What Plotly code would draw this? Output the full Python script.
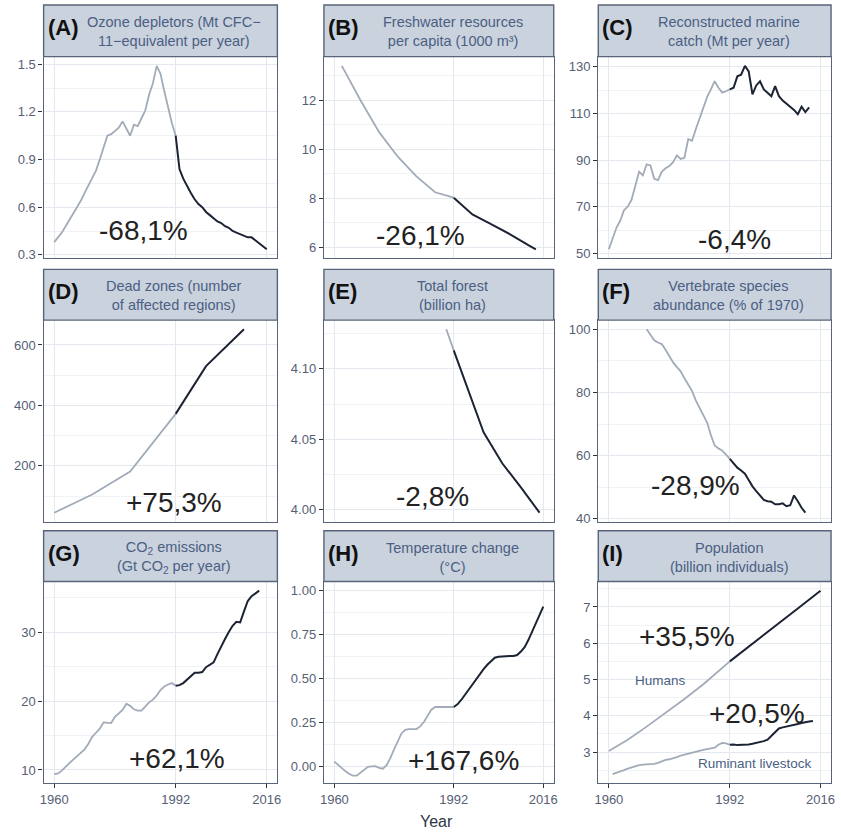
import plotly.graph_objects as go

W, H = 841, 837
SPLIT = 1992

# ---------------- data ----------------
years_ozone = list(range(1960, 2017))
ozone = [0.38, 0.41, 0.44, 0.48, 0.52, 0.56, 0.60, 0.64, 0.69, 0.74,
         0.78, 0.83, 0.90, 0.98, 1.05, 1.06, 1.08, 1.10, 1.14, 1.09,
         1.05, 1.12, 1.11, 1.16, 1.21, 1.31, 1.38, 1.49, 1.44, 1.33,
         1.22, 1.13, 1.05, 0.84, 0.78, 0.73, 0.69, 0.65, 0.62, 0.60,
         0.57, 0.55, 0.53, 0.51, 0.50, 0.48, 0.47, 0.45, 0.44, 0.43,
         0.42, 0.41, 0.41, 0.39, 0.37, 0.35, 0.335]

years_water = [1962, 1967, 1972, 1977, 1982, 1987, 1992, 1997, 2002, 2007, 2012, 2014]
water = [13.4, 12.0, 10.7, 9.7, 8.9, 8.25, 8.03, 7.35, 6.95, 6.55, 6.1, 5.93]

years_catch = list(range(1960, 2014))
catch = [51.8, 56.5, 61.0, 64.0, 68.5, 70.1, 73.0, 79.0, 85.0, 83.5,
         88.2, 87.7, 82.0, 81.4, 85.0, 86.5, 87.5, 89.1, 92.0, 90.5,
         91.0, 99.0, 98.3, 103.2, 108.0, 113.2, 117.0, 120.3, 123.8, 121.0,
         118.9, 119.5, 120.3, 121.0, 125.9, 126.6, 130.4, 128.0, 118.2, 122.0,
         123.8, 120.3, 118.9, 117.4, 121.7, 117.4, 115.5, 114.2, 113.2, 111.5,
         109.7, 112.9, 110.6, 112.6]

years_dead = [1960, 1970, 1980, 1990, 1992, 2000, 2010]
dead = [45, 105, 181, 340, 372, 530, 652]

years_forest = [1990, 1992, 2000, 2005, 2010, 2015]
forest = [4.128, 4.113, 4.055, 4.033, 4.016, 3.998]

years_lpi = list(range(1970, 2013))
lpi = [100.0, 98.3, 96.5, 95.8, 95.3, 93.5, 91.5, 89.5, 88.0, 86.7,
       84.5, 82.5, 80.5, 77.5, 75.2, 73.0, 70.5, 66.5, 63.2, 62.3,
       61.6, 60.3, 59.0, 57.5, 56.2, 55.3, 54.3, 52.3, 50.3, 48.8,
       47.5, 46.0, 45.6, 45.4, 44.6, 44.6, 44.9, 44.0, 44.3, 47.4,
       45.6, 43.5, 41.95]

years_co2 = list(range(1960, 2015))
co2 = [9.4, 9.5, 9.9, 10.5, 11.0, 11.5, 12.0, 12.4, 13.0, 13.8,
       14.8, 15.4, 16.0, 16.9, 16.8, 16.8, 17.7, 18.2, 18.7, 19.6,
       19.3, 18.8, 18.6, 18.6, 19.2, 19.8, 20.2, 20.8, 21.6, 22.1,
       22.4, 22.6, 22.2, 22.3, 22.6, 23.1, 23.7, 24.1, 24.1, 24.2,
       24.9, 25.2, 25.6, 26.8, 28.0, 29.0, 30.0, 30.9, 31.5, 31.4,
       33.0, 34.5, 35.2, 35.6, 36.0]

years_temp = list(range(1960, 2017))
temp = [0.03, 0.01, -0.01, -0.025, -0.04, -0.05, -0.05, -0.035, -0.015, 0.0,
        0.003, 0.004, -0.005, -0.01, 0.01, 0.05, 0.10, 0.15, 0.19, 0.21,
        0.215, 0.215, 0.215, 0.23, 0.255, 0.29, 0.325, 0.34, 0.34, 0.337,
        0.337, 0.338, 0.34, 0.355, 0.38, 0.41, 0.44, 0.47, 0.50, 0.53,
        0.555, 0.58, 0.60, 0.62, 0.625, 0.628, 0.63, 0.63, 0.63, 0.635,
        0.655, 0.68, 0.72, 0.77, 0.82, 0.87, 0.91]

years_humans = [1960, 1965, 1970, 1975, 1980, 1985, 1990, 1992, 1995, 2000, 2005, 2010, 2016]
humans = [3.03, 3.34, 3.70, 4.08, 4.46, 4.87, 5.33, 5.50, 5.74, 6.14, 6.54, 6.96, 7.45]

years_livestock = list(range(1961, 2015))
livestock = [2.39, 2.42, 2.46, 2.50, 2.54, 2.58, 2.62, 2.64, 2.65,
             2.65, 2.66, 2.67, 2.70, 2.75, 2.78, 2.80, 2.82, 2.86, 2.90,
             2.93, 2.96, 2.98, 3.00, 3.03, 3.06, 3.08, 3.10, 3.12, 3.20,
             3.25, 3.24, 3.20, 3.21, 3.19, 3.19, 3.19, 3.21, 3.23, 3.25,
             3.27, 3.30, 3.34, 3.45, 3.57, 3.65, 3.68, 3.70, 3.71, 3.74,
             3.77, 3.80, 3.83, 3.84, 3.856]

x_ticks = [1960, 1992, 2016]

# panel letter, strip text, series, y tick start/step, tick format, labels
panels = [
    ("A", "Ozone depletors (Mt CFC\u2212<br>11\u2212equivalent per year)",
     [(years_ozone, ozone)], 0.3, 0.3, ".1f",
     [("-68,1%", 1983.5, 0.455, 28)]),
    ("B", "Freshwater resources<br>per capita (1000 m\u00b3)",
     [(years_water, water)], 6, 2, "d",
     [("-26,1%", 1983.2, 6.49, 28)]),
    ("C", "Reconstructed marine<br>catch (Mt per year)",
     [(years_catch, catch)], 50, 20, "d",
     [("-6,4%", 1993.3, 56.1, 28)]),
    ("D", "Dead zones (number<br>of affected regions)",
     [(years_dead, dead)], 200, 200, "d",
     [("+75,3%", 1991.6, 80, 28)]),
    ("E", "Total forest<br>(billion ha)",
     [(years_forest, forest)], 4.0, 0.05, ".2f",
     [("-2,8%", 1986.3, 4.0093, 28)]),
    ("F", "Vertebrate species<br>abundance (% of 1970)",
     [(years_lpi, lpi)], 40, 20, "d",
     [("-28,9%", 1982.8, 50.7, 28)]),
    ("G", "CO<sub>2</sub> emissions<br>(Gt CO<sub>2</sub> per year)",
     [(years_co2, co2)], 10, 10, "d",
     [("+62,1%", 1992.4, 11.6, 28)]),
    ("H", "Temperature change<br>(\u00b0C)",
     [(years_temp, temp)], 0.0, 0.25, ".2f",
     [("+167,6%", 1994.6, 0.036, 28)]),
    ("I", "Population<br>(billion individuals)",
     [(years_humans, humans), (years_livestock, livestock)], 3, 1, "d",
     [("+35,5%", 1980.7, 6.19, 28), ("Humans", 1973.7, 4.96, 13.5),
      ("+20,5%", 1999.2, 4.06, 28), ("Ruminant livestock", 1998.8, 2.67, 13.5)]),
]

# ---------------- style ----------------
FONT = "Liberation Sans, Arial, sans-serif"
C_EARLY = "#a2abb8"
C_LATE = "#1c2333"
C_BORDER = "#59647a"
C_STRIP = "#cad2de"
C_GRID = "#e5e8ee"
C_MINOR = "#f0f2f5"
C_TICKTXT = "#566074"
C_STRIPTXT = "#4b5f83"

col_px = [(40, 276), (323, 555), (600, 835)]
row_px = [(57, 260), (322, 525), (585, 788)]
strip_px = [(5, 57), (271, 322), (534, 585)]
X_RANGE = [1957.2, 2018.8]
# the temperature scale reaches up to the 1.00 break
Y_RANGE_OVERRIDE = {"H": [-0.093, 1.0525]}


def px_x(v):
    return v / W


def px_y(v):
    return 1 - v / H


fig = go.Figure()
annotations = []
shapes = []
layout_axes = {}

for i, (letter, desc, series, t0, dt, fmt, labels) in enumerate(panels):
    r, c = divmod(i, 3)
    n = "" if i == 0 else str(i + 1)
    xa, ya = "x" + n, "y" + n

    allv = [v for _, vals in series for v in vals]
    lo, hi = min(allv), max(allv)
    pad = 0.05 * (hi - lo)
    y_range = Y_RANGE_OVERRIDE.get(letter, [lo - pad, hi + pad])

    for yrs, vals in series:
        early = [(y, v) for y, v in zip(yrs, vals) if y <= SPLIT]
        late = [(y, v) for y, v in zip(yrs, vals) if y >= SPLIT]
        if len(early) > 1:
            fig.add_trace(go.Scatter(
                x=[p[0] for p in early], y=[p[1] for p in early], mode="lines",
                line=dict(color=C_EARLY, width=1.8), xaxis=xa, yaxis=ya,
                showlegend=False, hoverinfo="skip"))
        if len(late) > 1:
            fig.add_trace(go.Scatter(
                x=[p[0] for p in late], y=[p[1] for p in late], mode="lines",
                line=dict(color=C_LATE, width=2.0), xaxis=xa, yaxis=ya,
                showlegend=False, hoverinfo="skip"))

    x0, x1 = col_px[c]
    y0, y1 = row_px[r]
    bottom = r == 2
    layout_axes["xaxis" + n] = dict(
        domain=[px_x(x0), px_x(x1)], range=X_RANGE, anchor=ya,
        tickmode="array", tickvals=x_ticks,
        showticklabels=bottom, ticks="outside" if bottom else "",
        ticklen=4, tickcolor="#333", tickwidth=1,
        tickfont=dict(family=FONT, size=13, color=C_TICKTXT),
        showgrid=True, gridcolor=C_GRID, gridwidth=1,
        showline=True, mirror=True, linecolor=C_BORDER, linewidth=1.4,
        zeroline=False, fixedrange=True)
    layout_axes["yaxis" + n] = dict(
        domain=[px_y(y1), px_y(y0)], range=y_range, anchor=xa,
        tick0=t0, dtick=dt, tickformat=fmt,
        minor=dict(tick0=t0, dtick=dt / 2, showgrid=True,
                   gridcolor=C_MINOR, gridwidth=0.8),
        ticks="outside", ticklen=4, tickcolor="#333", tickwidth=1,
        tickfont=dict(family=FONT, size=13, color=C_TICKTXT),
        showgrid=True, gridcolor=C_GRID, gridwidth=1,
        showline=True, mirror=True, linecolor=C_BORDER, linewidth=1.4,
        zeroline=False, fixedrange=True)

    # facet strip
    s0, s1 = strip_px[r]
    shapes.append(dict(type="rect", xref="paper", yref="paper",
                       x0=px_x(x0), x1=px_x(x1), y0=px_y(s1), y1=px_y(s0),
                       fillcolor=C_STRIP, line=dict(color=C_BORDER, width=1.4),
                       layer="above"))
    mid = (s0 + s1) / 2
    annotations.append(dict(
        text="<b>(%s)</b>" % letter, xref="paper", yref="paper",
        x=px_x(x0 + 2), y=px_y(mid - 3), xanchor="left", yanchor="middle",
        showarrow=False, font=dict(family=FONT, size=22, color="#111111")))
    annotations.append(dict(
        text=desc, xref="paper", yref="paper",
        x=px_x((x0 + x1) / 2 + 14), y=px_y(mid + 1), xanchor="center",
        yanchor="middle", showarrow=False, align="center",
        font=dict(family=FONT, size=14.5, color=C_STRIPTXT)))

    for txt, lx, ly, size in labels:
        color = C_STRIPTXT if size < 20 else "#222222"
        annotations.append(dict(
            text=txt, xref=xa, yref=ya, x=lx, y=ly, showarrow=False,
            xanchor="center", yanchor="middle",
            font=dict(family=FONT, size=size, color=color)))

annotations.append(dict(
    text="Year", xref="paper", yref="paper", x=px_x(437), y=px_y(826),
    xanchor="center", yanchor="middle", showarrow=False,
    font=dict(family=FONT, size=16, color="#2e3545")))

fig.update_layout(
    width=W, height=H, autosize=False,
    margin=dict(l=0, r=0, t=0, b=0),
    paper_bgcolor="white", plot_bgcolor="white",
    showlegend=False, annotations=annotations, shapes=shapes,
    **layout_axes)

fig.write_html("out.html")
